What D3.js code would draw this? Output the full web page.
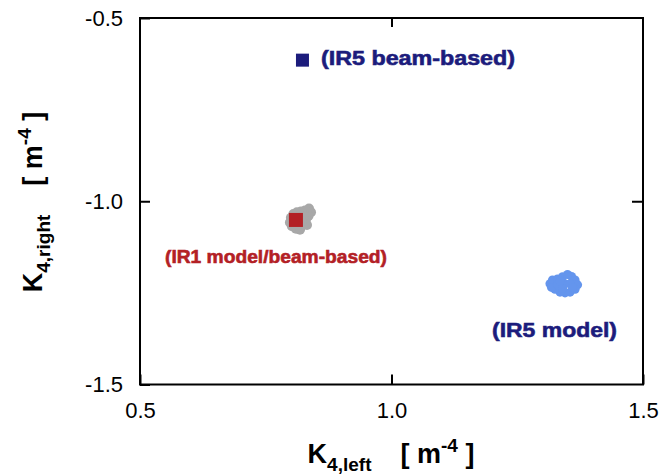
<!DOCTYPE html>
<html>
<head>
<meta charset="utf-8">
<script src="https://cdn.jsdelivr.net/npm/d3@7"></script>
<style>
  body { margin: 0; background: #fff; }
  svg { font-family: "Liberation Sans", Arial, Helvetica, sans-serif; }
</style>
</head>
<body>
<div id="chart"></div>
<script>
// tick values
var xTicks = [0.5, 1.0, 1.5];
var yTicks = [-0.5, -1.0, -1.5];

// IR1 model cloud (grey)
var ir1ModelX = [0.800, 0.805, 0.812, 0.820, 0.828, 0.836, 0.840, 0.835, 0.830, 0.826, 0.820, 0.810, 0.802, 0.798, 0.815, 0.825, 0.818, 0.808, 0.832, 0.822];
var ir1ModelY = [-1.045, -1.035, -1.030, -1.028, -1.025, -1.020, -1.030, -1.040, -1.050, -1.060, -1.070, -1.075, -1.068, -1.058, -1.045, -1.040, -1.078, -1.060, -1.065, -1.055];

// IR5 model cloud (blue)
var ir5ModelX = [1.315, 1.320, 1.330, 1.340, 1.350, 1.358, 1.365, 1.370, 1.365, 1.355, 1.345, 1.335, 1.325, 1.318, 1.330, 1.345, 1.355, 1.340, 1.360, 1.335];
var ir5ModelY = [-1.225, -1.215, -1.212, -1.206, -1.200, -1.205, -1.215, -1.228, -1.240, -1.248, -1.250, -1.248, -1.240, -1.235, -1.228, -1.225, -1.225, -1.238, -1.235, -1.218];

// beam-based measurements
var ir1Beam = {x: 0.810, y: -1.051};
var ir5Beam = {x: 0.823, y: -0.615};

var width = 665, height = 474;
var margin = {top: 18, right: 22, bottom: 90, left: 140};

var svg = d3.select("#chart").append("svg")
  .attr("width", width)
  .attr("height", height);

var x = d3.scaleLinear().domain([0.5, 1.5]).range([margin.left, width - margin.right]);
var y = d3.scaleLinear().domain([-1.5, -0.5]).range([height - margin.bottom + 0.5, margin.top]);

var fmt = function(d) { return d.toFixed(1); };

// axes with inward ticks
svg.append("g")
  .attr("transform", "translate(0," + y(-1.5) + ")")
  .call(d3.axisBottom(x).tickValues(xTicks).tickSize(-10).tickPadding(18).tickFormat(fmt))
  .call(function(g) { g.select(".domain").remove(); })
  .selectAll("text").style("font-size", "22px").attr("fill", "#000");

svg.append("g")
  .attr("transform", "translate(" + x(0.5) + ",0)")
  .call(d3.axisLeft(y).tickValues(yTicks).tickSize(-10).tickPadding(17).tickFormat(fmt))
  .call(function(g) { g.select(".domain").remove(); })
  .selectAll("text").style("font-size", "22px").attr("fill", "#000");

svg.append("g")
  .attr("transform", "translate(0," + y(-0.5) + ")")
  .call(d3.axisTop(x).tickValues([1.0]).tickSize(-9).tickFormat(""))
  .call(function(g) { g.select(".domain").remove(); });

svg.append("g")
  .attr("transform", "translate(" + x(1.5) + ",0)")
  .call(d3.axisRight(y).tickValues([-1.0]).tickSize(-11).tickFormat(""))
  .call(function(g) { g.select(".domain").remove(); });

svg.selectAll(".tick line").attr("stroke", "#000").attr("stroke-width", 2);

// frame
svg.append("rect")
  .attr("x", x(0.5)).attr("y", y(-0.5))
  .attr("width", x(1.5) - x(0.5)).attr("height", y(-1.5) - y(-0.5))
  .attr("fill", "none").attr("stroke", "#000").attr("stroke-width", 2);

// clouds
svg.selectAll(".ir1m")
  .data(d3.range(ir1ModelX.length))
  .enter().append("circle")
  .attr("cx", function(i) { return x(ir1ModelX[i]); })
  .attr("cy", function(i) { return y(ir1ModelY[i]); })
  .attr("r", 5)
  .attr("fill", "#a8a8a8");

svg.selectAll(".ir5m")
  .data(d3.range(ir5ModelX.length))
  .enter().append("circle")
  .attr("cx", function(i) { return x(ir5ModelX[i]); })
  .attr("cy", function(i) { return y(ir5ModelY[i]); })
  .attr("r", 4.5)
  .attr("fill", "#6495ed");

// squares
function square(p, s, color) {
  svg.append("rect")
    .attr("x", x(p.x) - s / 2).attr("y", y(p.y) - s / 2)
    .attr("width", s).attr("height", s)
    .attr("fill", color);
}
square(ir1Beam, 14, "#b32025");
square(ir5Beam, 13, "#1c1c7c");

// labels
function label(tx, ty, txt, color, size, len) {
  svg.append("text")
    .attr("x", tx).attr("y", ty)
    .attr("fill", color)
    .attr("stroke", color)
    .attr("stroke-width", 0.6)
    .attr("textLength", len)
    .attr("lengthAdjust", "spacingAndGlyphs")
    .style("font-size", size + "px")
    .style("font-weight", "bold")
    .text(txt);
}
label(321, 65, "(IR5 beam-based)", "#1c1c7c", 20, 194);
label(165, 263, "(IR1 model/beam-based)", "#b32025", 19, 222);
label(492, 337, "(IR5 model)", "#1c1c7c", 21, 125);

// axis titles
function axisTitle(sel, sub) {
  sel.append("tspan").text("K");
  sel.append("tspan").attr("dy", 8).style("font-size", "19px").text(sub);
  sel.append("tspan").attr("dy", -8).attr("dx", 29).text("[ m");
  sel.append("tspan").attr("dy", -11).style("font-size", "19px").text("-4");
  sel.append("tspan").attr("dy", 11).text(" ]");
}

var xt = svg.append("text")
  .attr("x", 391).attr("y", 463)
  .attr("text-anchor", "middle")
  .style("font-weight", "bold")
  .style("font-size", "27px");
axisTitle(xt, "4,left");

var yt = svg.append("text")
  .attr("transform", "translate(42,202) rotate(-90)")
  .attr("text-anchor", "middle")
  .style("font-weight", "bold")
  .style("font-size", "27px");
axisTitle(yt, "4,right");
</script>
</body>
</html>
